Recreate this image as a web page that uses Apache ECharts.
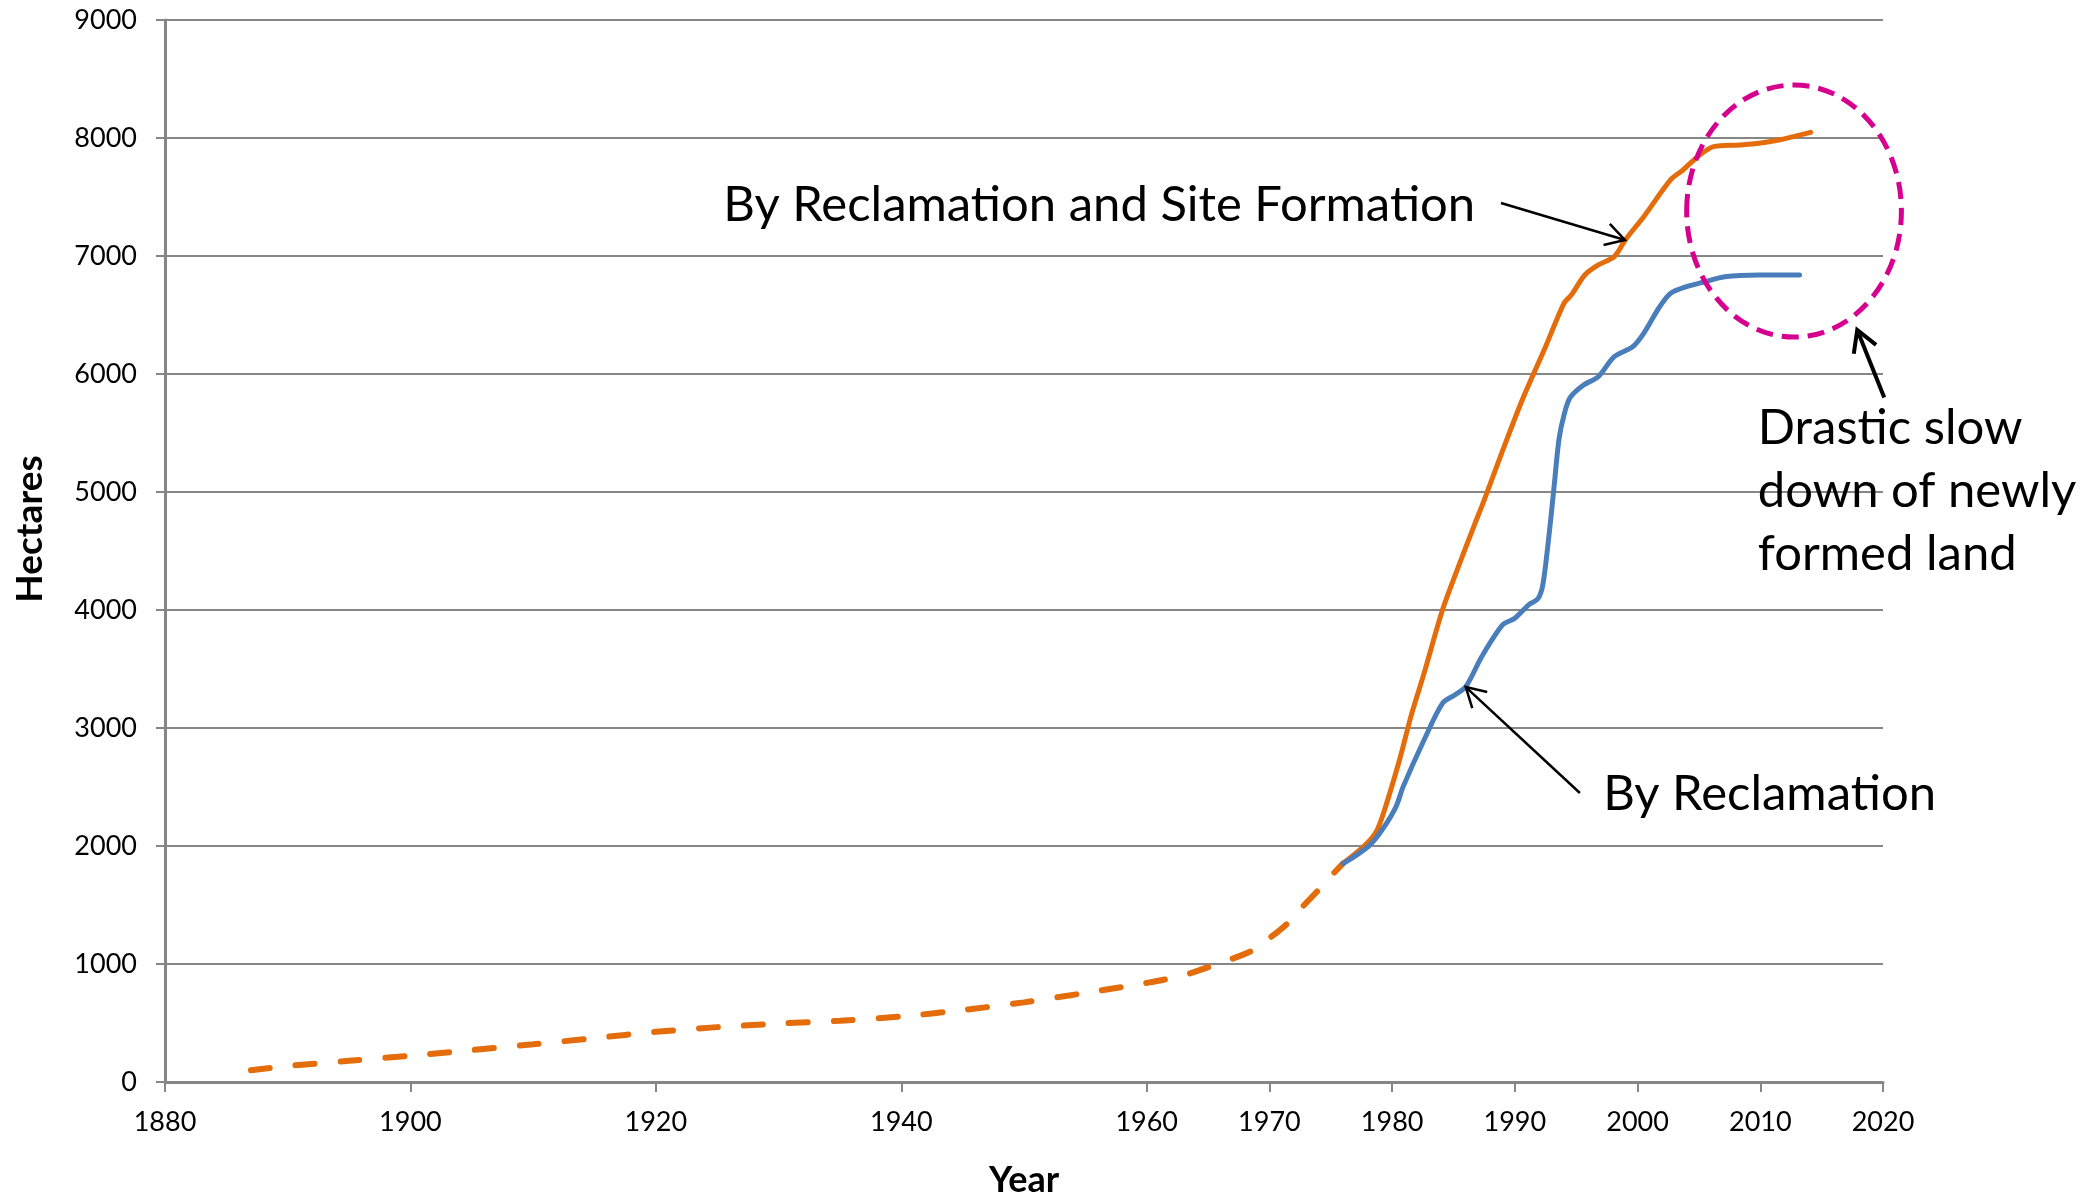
<!DOCTYPE html>
<html>
<head>
<meta charset="utf-8">
<title>Newly formed land</title>
<script src="https://cdn.jsdelivr.net/npm/echarts@6/dist/echarts.min.js"></script>
<style>
  html, body { margin: 0; padding: 0; background: #fff; }
  #main { width: 2100px; height: 1196px; }
</style>
</head>
<body>
<div id="main"></div>
<script>
// tick years shown on the x axis (uneven spacing, as in the original)
const tickYears = [1880, 1900, 1920, 1940, 1960, 1970, 1980, 1990, 2000, 2010, 2020];

// By Reclamation and Site Formation - early estimate (dashed part)
const siteDashYears = [1887, 1890, 1895, 1900, 1905, 1910, 1915, 1920, 1925, 1930, 1935, 1940, 1945, 1950, 1955, 1960, 1963, 1966, 1968.4, 1969.8, 1971.5, 1972.6, 1974, 1975.1, 1976];
const siteDashValues = [100, 135, 180, 222, 270, 320, 372, 425, 465, 495, 520, 555, 610, 675, 755, 840, 905, 1010, 1104, 1203, 1347, 1474, 1627, 1754, 1853];

// By Reclamation and Site Formation (solid part)
const siteYears = [1976, 1977.8, 1978.7, 1979.3, 1980.6, 1981.6, 1982.6, 1984.1, 1985.3, 1986.7, 1987.5, 1989, 1990.6, 1992.5, 1994, 1994.6, 1995.7, 1996.8, 1998.1, 1999, 2000.5, 2002.7, 2003.7, 2004.9, 2006.2, 2008.3, 2009.9, 2011.5, 2014.1];
const siteValues = [1853, 2008, 2121, 2280, 2729, 3124, 3463, 4000, 4340, 4720, 4932, 5350, 5780, 6231, 6599, 6669, 6839, 6924, 6994, 7136, 7333, 7647, 7729, 7842, 7927, 7941, 7955, 7983, 8048];

// By Reclamation
const reclYears = [1976, 1978.1, 1979.2, 1980.3, 1980.9, 1982.6, 1984.1, 1985.1, 1986, 1987.3, 1989, 1990, 1991.1, 1991.9, 1992.3, 1992.8, 1993.2, 1993.6, 1994, 1994.5, 1995.6, 1996.8, 1998.1, 1999.6, 2000.5, 2001.8, 2002.7, 2004, 2005.5, 2007.1, 2009.9, 2013.2];
const reclValues = [1850, 2000, 2140, 2330, 2503, 2898, 3209, 3280, 3350, 3604, 3873, 3930, 4042, 4099, 4226, 4650, 5050, 5450, 5650, 5800, 5907, 5977, 6147, 6231, 6345, 6570, 6684, 6740, 6782, 6824, 6839, 6839];

const ORANGE = '#E46C0A';
const BLUE = '#4A7EBB';
const GREY = '#868686';
const FONT = 'Lato';

function pairs(xs, ys) {
  return xs.map(function (x, i) { return [x, ys[i]]; });
}

function plain(v) {
  return String(v);
}

const chart = echarts.init(document.getElementById('main'), null, { renderer: 'canvas' });

chart.setOption({
  animation: false,
  backgroundColor: '#fff',
  grid: { left: 165, right: 217, top: 20, bottom: 114, containLabel: false, outerBoundsMode: 'none' },
  xAxis: {
    type: 'value',
    min: 1880,
    max: 2020,
    name: 'Year',
    nameLocation: 'middle',
    nameGap: 80,
    nameTextStyle: { fontFamily: FONT, fontSize: 36, fontWeight: 'bold', color: '#000' },
    axisLine: { show: true, lineStyle: { color: GREY, width: 3 } },
    axisTick: { show: true, customValues: tickYears, length: 10, lineStyle: { color: GREY, width: 2 } },
    axisLabel: { customValues: tickYears, formatter: plain, fontFamily: FONT, fontSize: 27, color: '#000', margin: 27 },
    splitLine: { show: false }
  },
  yAxis: {
    type: 'value',
    min: 0,
    max: 9000,
    interval: 1000,
    name: 'Hectares',
    nameLocation: 'middle',
    nameGap: 116,
    nameTextStyle: { fontFamily: FONT, fontSize: 37, fontWeight: 'bold', color: '#000', padding: [0, 0, 0, 44] },
    axisLine: { show: true, lineStyle: { color: GREY, width: 3 } },
    axisTick: { show: true, length: 9, lineStyle: { color: GREY, width: 2 } },
    axisLabel: { formatter: plain, fontFamily: FONT, fontSize: 27, color: '#000', margin: 28 },
    splitLine: { show: true, lineStyle: { color: GREY, width: 2 } }
  },
  series: [
    {
      name: 'Site formation (estimate)',
      type: 'line',
      data: pairs(siteDashYears, siteDashValues),
      showSymbol: false,
      smooth: 0.3,
      lineStyle: { color: ORANGE, width: 6, type: [19, 26], cap: 'round' },
      z: 2
    },
    {
      name: 'By Reclamation and Site Formation',
      type: 'line',
      data: pairs(siteYears, siteValues),
      showSymbol: false,
      smooth: 0.3,
      lineStyle: { color: ORANGE, width: 5, cap: 'round' },
      z: 3
    },
    {
      name: 'By Reclamation',
      type: 'line',
      data: pairs(reclYears, reclValues),
      showSymbol: false,
      smooth: 0.3,
      lineStyle: { color: BLUE, width: 5, cap: 'round' },
      z: 4
    }
  ]
});

// annotations, placed in data units and converted to pixels
function px(year, val) {
  return chart.convertToPixel({ gridIndex: 0 }, [year, val]);
}

function arrow(tail, head, width, headLen) {
  const a = Math.atan2(tail[1] - head[1], tail[0] - head[0]);
  const spread = Math.PI / 6;
  const p1 = [head[0] + headLen * Math.cos(a + spread), head[1] + headLen * Math.sin(a + spread)];
  const p2 = [head[0] + headLen * Math.cos(a - spread), head[1] + headLen * Math.sin(a - spread)];
  return [
    { type: 'line', shape: { x1: tail[0], y1: tail[1], x2: head[0], y2: head[1] }, style: { stroke: '#000', lineWidth: width }, z: 10 },
    { type: 'polyline', shape: { points: [p1, head, p2] }, style: { stroke: '#000', lineWidth: width, fill: null, lineJoin: 'miter' }, z: 10 }
  ];
}

function label(text, pos, lineHeight) {
  return {
    type: 'text',
    x: pos[0],
    y: pos[1],
    z: 10,
    style: {
      text: text,
      font: '49px ' + FONT,
      fill: '#000',
      textAlign: 'left',
      textVerticalAlign: 'middle',
      lineHeight: lineHeight || 63
    }
  };
}

const c = px(2012.75, 7381);
const edge = px(2012.75 + 8.75, 7381 + 1068);

const graphics = [
  label('By Reclamation and Site Formation', px(1925.5, 7432)),
  label('By Reclamation', px(1997.2, 2441)),
  label('Drastic slow\ndown of newly\nformed land', px(2009.8, 5010)),
  {
    type: 'ellipse',
    z: 9,
    shape: { cx: c[0], cy: c[1], rx: edge[0] - c[0], ry: c[1] - edge[1] },
    style: { fill: null, stroke: '#D6008F', lineWidth: 5, lineDash: [17, 9] }
  }
]
  .concat(arrow(px(1988.87, 7449), px(1998.97, 7136), 2.5, 22))
  .concat(arrow(px(1995.3, 2449), px(1986.0, 3347), 2.5, 22))
  .concat(arrow(px(2020.1, 5800), px(2017.9, 6373), 4, 24));

chart.setOption({ graphic: graphics });
</script>
</body>
</html>
